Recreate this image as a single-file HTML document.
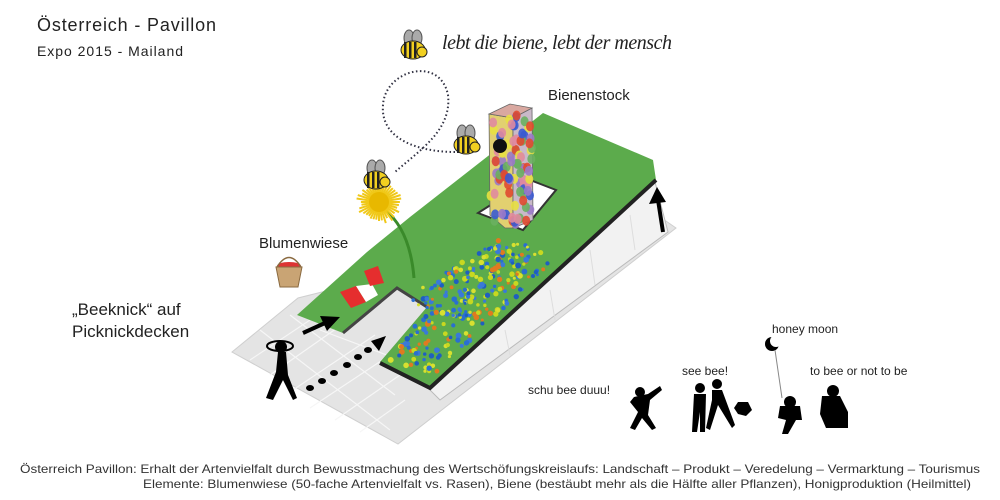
<!DOCTYPE html>
<html><head><meta charset="utf-8"><style>
html,body{margin:0;padding:0;background:#fff;}
svg{display:block;}
text{font-family:"Liberation Sans","DejaVu Sans",sans-serif;}
</style></head><body>
<svg id="s" width="1000" height="500" viewBox="0 0 1000 500" xmlns="http://www.w3.org/2000/svg">
<text x="37" y="31" font-size="18" fill="#222" textLength="179">Österreich - Pavillon</text>
<text x="37" y="56" font-size="14" fill="#222" textLength="146">Expo 2015 - Mailand</text>
<text x="442" y="49" font-size="20" font-style="italic" fill="#222" style="font-family:'Liberation Serif',serif" textLength="230">lebt die biene, lebt der mensch</text>
<text x="548" y="100" font-size="15" fill="#222">Bienenstock</text>
<text x="259" y="248" font-size="15" fill="#222">Blumenwiese</text>
<text x="72" y="315" font-size="17" fill="#222">„Beeknick“ auf</text>
<text x="72" y="337" font-size="17" fill="#222">Picknickdecken</text>

<polygon points="232,352 298,298 650,210 676,228 398,444" fill="#e4e4e4" stroke="#cfcfcf"/>
<g stroke="#f6f6f6" stroke-width="1.2">
<line x1="250" y1="360" x2="340" y2="300"/><line x1="270" y1="375" x2="360" y2="312"/>
<line x1="290" y1="392" x2="375" y2="335"/><line x1="310" y1="408" x2="390" y2="355"/>
<line x1="335" y1="420" x2="400" y2="375"/><line x1="360" y1="432" x2="405" y2="400"/>
<line x1="260" y1="330" x2="390" y2="430"/><line x1="290" y1="315" x2="395" y2="395"/>
<line x1="320" y1="330" x2="400" y2="360"/>
</g>
<polygon points="655,182 668,232 440,400 428,388" fill="#f2f2f2" stroke="#bbb" stroke-width="1"/>
<g stroke="#ddd"><line x1="630" y1="215" x2="635" y2="250"/><line x1="590" y1="250" x2="595" y2="285"/><line x1="550" y1="290" x2="555" y2="320"/><line x1="505" y1="330" x2="510" y2="355"/></g>
<polygon points="297,315 367,252 410,217 543,113 653,160 656,180 430,387 380,362 427,307 397,287 343,333" fill="#5cab4c"/>
<polyline points="656,180 430,388 380,363" fill="none" stroke="#222" stroke-width="4"/>
<polyline points="343,333 397,288 427,307" fill="none" stroke="#444" stroke-width="3"/>
<g id="fl"></g>
<polygon points="478,213 523,230 556,190 530,180" fill="#fff" stroke="#333" stroke-width="2"/>
<polygon points="489,114 513,118 513,228 505,228 490,215" fill="#e2d070" stroke="#666" stroke-width="0.8"/>
<polygon points="513,118 532,108 533,220 513,228" fill="#c9b9c8" stroke="#666" stroke-width="0.8"/>
<polygon points="489,114 510,104 532,108 513,118" fill="#d9a8a0" stroke="#666" stroke-width="0.8"/>
<g id="tw"></g>
<circle cx="500" cy="146" r="7" fill="#111"/>
<polygon points="340,292 356,286 366,302 351,308" fill="#e52e2e"/>
<polygon points="356,286 372,284 378,295 366,302" fill="#fff"/>
<polygon points="364,271 378,266 384,283 370,286" fill="#e52e2e"/>
<ellipse cx="289" cy="266" rx="12" ry="4" fill="#d33"/>
<path d="M276,267 L302,267 L298,287 L280,287 Z" fill="#c9a474" stroke="#8a6a40"/>
<path d="M277,267 Q289,248 301,267" fill="none" stroke="#8a6a40" stroke-width="1.5"/>
<path d="M385,210 Q410,230 414,278" fill="none" stroke="#3a8a2a" stroke-width="3"/>
<g id="dd"></g>
<path d="M455,152 C420,152 380,140 383,105 C385,70 440,55 448,95 C452,130 420,150 395,172" fill="none" stroke="#334" stroke-width="2" stroke-dasharray="1.5 2.5"/>
<g id="bees"></g>
<line x1="303" y1="333" x2="325" y2="323" stroke="#000" stroke-width="4"/>
<polygon points="340,317 320,316 327,331" fill="#000"/>
<g fill="#000"><ellipse cx="310" cy="388" rx="4" ry="3"/><ellipse cx="322" cy="381" rx="4" ry="3"/><ellipse cx="334" cy="373" rx="4" ry="3"/><ellipse cx="347" cy="365" rx="4" ry="3"/><ellipse cx="358" cy="357" rx="4" ry="3"/><ellipse cx="368" cy="350" rx="4" ry="3"/></g>
<polygon points="386,336 371,341 379,351" fill="#000"/>
<line x1="663" y1="232" x2="658" y2="200" stroke="#000" stroke-width="4"/>
<polygon points="657,187 649,204 666,202" fill="#000"/>
<ellipse cx="280" cy="346" rx="13" ry="5" fill="none" stroke="#000" stroke-width="2"/>
<circle cx="281" cy="347" r="6" fill="#000"/>
<path d="M278,352 L286,352 L288,375 L297,398 L293,400 L283,380 L273,400 L266,398 L276,372 Z" fill="#000"/>
<text x="528" y="394" font-size="12" fill="#222">schu bee duuu!</text>
<text x="682" y="375" font-size="12" fill="#222">see bee!</text>
<text x="772" y="333" font-size="12" fill="#222">honey moon</text>
<text x="810" y="375" font-size="12" fill="#222">to bee or not to be</text>
<g fill="#000">
<circle cx="640" cy="392" r="5"/><path d="M634,397 L648,394 L660,386 L662,390 L650,400 L648,415 L656,428 L652,430 L642,418 L635,430 L630,428 L638,412 L630,402 Z"/>
<circle cx="700" cy="388" r="5"/><path d="M694,394 L706,394 L705,432 L700,432 L700,412 L697,432 L692,432 Z"/>
<circle cx="717" cy="384" r="5"/><path d="M712,390 L722,390 L735,425 L732,428 L718,405 L710,430 L706,428 L712,400 Z"/>
<polygon points="738,402 748,402 752,410 746,416 738,414 734,408"/>
<circle cx="772" cy="344" r="7"/>
<circle cx="790" cy="402" r="6"/><path d="M780,406 L800,406 L802,420 L796,420 L788,434 L782,434 L786,420 L778,418 Z"/>
<circle cx="833" cy="391" r="6"/><path d="M822,396 L840,396 L848,412 L848,428 L826,428 L820,414 Z"/>
</g>
<circle cx="776" cy="341" r="6" fill="#fff"/>
<line x1="775" y1="350" x2="782" y2="398" stroke="#888" stroke-width="1"/>
<text x="20" y="473" font-size="12" fill="#333" textLength="960" lengthAdjust="spacingAndGlyphs">Österreich Pavillon: Erhalt der Artenvielfalt durch Bewusstmachung des Wertschöfungskreislaufs: Landschaft – Produkt – Veredelung – Vermarktung – Tourismus</text>
<text x="143" y="488" font-size="12" fill="#333" textLength="828" lengthAdjust="spacingAndGlyphs">Elemente: Blumenwiese (50-fache Artenvielfalt vs. Rasen), Biene (bestäubt mehr als die Hälfte aller Pflanzen), Honigproduktion (Heilmittel)</text>
</svg>
<script>
var NS="http://www.w3.org/2000/svg";
function el(p,t,a){var e=document.createElementNS(NS,t);for(var k in a)e.setAttribute(k,a[k]);p.appendChild(e);return e;}
var seed=7;function r(){seed=(seed*9301+49297)%233280;return seed/233280;}
var fl=document.getElementById('fl');
var cols=['#2a6fd0','#d8e030','#e07a20','#1f5fc0','#c8d820','#3a7ad8'];
var poly=[[402,300],[430,283],[500,238],[548,247],[548,268],[432,378],[390,360],[428,308]];
function inside(x,y){var c=false;for(var i=0,j=poly.length-1;i<poly.length;j=i++){var xi=poly[i][0],yi=poly[i][1],xj=poly[j][0],yj=poly[j][1];if(((yi>y)!=(yj>y))&&(x<(xj-xi)*(y-yi)/(yj-yi)+xi))c=!c;}return c;}
for(var n=0;n<700;n++){var x=385+r()*170,y=235+r()*150;if(inside(x,y))el(fl,'circle',{cx:x,cy:y,r:1.5+r()*1.5,fill:cols[Math.floor(r()*cols.length)]});}
var tw=document.getElementById('tw');var tc=['#e04a30','#3a5ad0','#e8e040','#9a7ac8','#6ab060','#e08aa0'];
for(var n=0;n<90;n++){var x=490+r()*42,y=112+r()*112;var ok=(x<513)?(y>116):(y>110&&y<226);if(ok)el(tw,'ellipse',{cx:x,cy:y,rx:4,ry:5,fill:tc[Math.floor(r()*tc.length)],opacity:0.9});}
var dd=document.getElementById('dd');
for(var a=0;a<40;a++){var t=a/40*Math.PI*2,l=17+r()*6;el(dd,'line',{x1:379,y1:202,x2:379+Math.cos(t)*l,y2:202+Math.sin(t)*l,stroke:'#f0c818','stroke-width':2});}
el(dd,'circle',{cx:379,cy:202,r:10,fill:'#e8b800'});
var bees=document.getElementById('bees');
function bee(x,y){el(bees,'ellipse',{cx:x-4,cy:y-12,rx:5,ry:8,fill:'#aaa',stroke:'#555'});el(bees,'ellipse',{cx:x+4,cy:y-12,rx:5,ry:8,fill:'#aaa',stroke:'#555'});
el(bees,'ellipse',{cx:x,cy:y,rx:12,ry:9,fill:'#f2d020',stroke:'#222'});
for(var i=-1;i<=1;i++)el(bees,'rect',{x:x-4+i*5,y:y-8,width:2.5,height:16,fill:'#222'});
el(bees,'circle',{cx:x+9,cy:y+2,r:5,fill:'#f2d020',stroke:'#222'});}
bee(413,50);bee(466,145);bee(376,180);
</script>
</body></html>
